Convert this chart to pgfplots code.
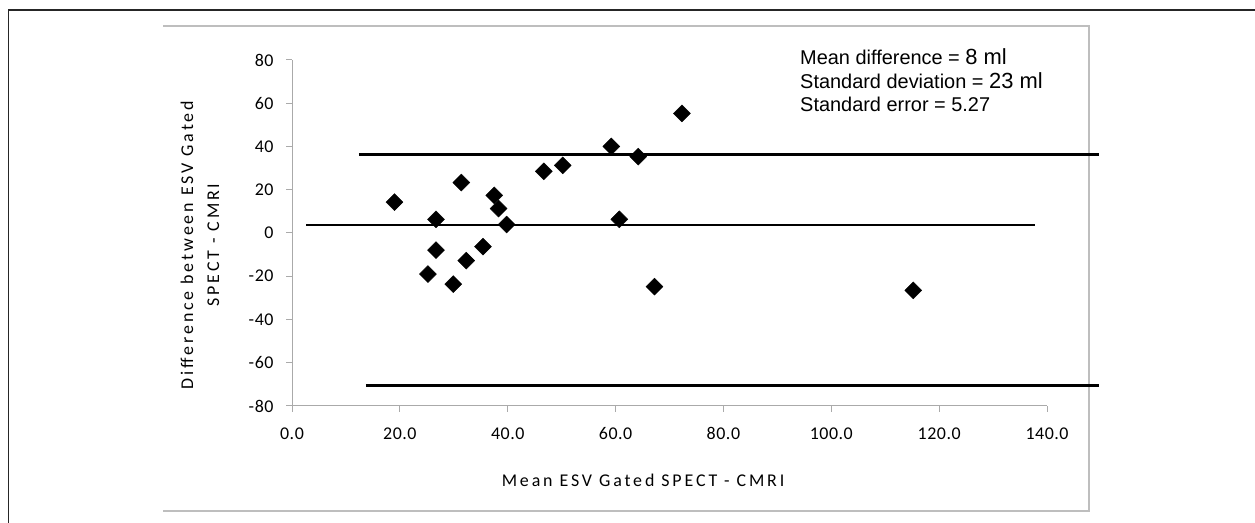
\documentclass[border=0pt]{standalone}
\usepackage{pgfplots}
\pgfplotsset{compat=1.18}
\usepackage{fontspec}
\setmainfont{Carlito}
\newfontfamily\tickfont[LetterSpace=3]{Carlito}
\newfontfamily\labelfont[LetterSpace=16]{Carlito}
\newfontfamily\arialfont{Liberation Sans}
\definecolor{axgray}{RGB}{170,170,170}
\definecolor{framegray}{RGB}{190,190,190}

\pgfplotstableread{
x y
19.0 14.3
26.7 6.3
31.4 23.3
37.5 17.4
38.3 11.3
39.8 3.9
46.7 28.5
50.2 31.3
59.2 40.0
64.2 35.3
60.7 6.3
26.7 -7.9
35.4 -6.3
32.3 -12.8
25.2 -19.0
29.9 -23.6
67.2 -24.8
72.3 55.3
115.2 -26.5
}\pts

\begin{document}
\begin{tikzpicture}[x=1bp,y=1bp]
\useasboundingbox (0,0) rectangle (1255,523);
\draw[black!85, line width=1.2bp] (8.5,0) -- (8.5,513) -- (1255,513);
\draw[framegray, line width=1.2bp] (163,497) -- (1089,497) -- (1089,12) -- (163,12);
\begin{axis}[
  at={(292bp,117bp)}, anchor=south west,
  scale only axis, width=755bp, height=346bp,
  xmin=0, xmax=140, ymin=-80, ymax=80,
  xtick={0,20,...,140}, ytick={-80,-60,...,80},
  axis x line*=bottom, axis y line*=left,
  axis line style={-, axgray, line width=1bp},
  tick style={axgray, line width=1bp},
  tick align=outside, major tick length=6bp,
  clip=false,
  ticklabel style={font=\tickfont\fontsize{18}{20}\selectfont, text=black},
  xticklabel style={yshift=-12bp},
  yticklabel style={xshift=-9bp},
  xticklabel={\pgfmathprintnumber[fixed,fixed zerofill,precision=1,assume math mode=true]{\tick}},
  yticklabel={\pgfmathprintnumber[assume math mode=true]{\tick}},
  xlabel={Mean ESV Gated SPECT - CMRI},
  ylabel={Difference between ESV Gated\\SPECT - CMRI},
  label style={font=\labelfont\fontsize{18}{26}\selectfont, align=center},
  xlabel style={at={(axis description cs:0.465,-0.214)}, anchor=center},
  ylabel style={at={(axis description cs:-0.122,0.465)}, anchor=center},
]
\addplot[black, line width=3bp] coordinates {(12.4,36.4) (149.6,36.4)};
\addplot[black, line width=3bp] coordinates {(13.7,-70.7) (149.6,-70.7)};
\addplot[black, line width=1.8bp] coordinates {(2.6,3.6) (137.8,3.6)};
\addplot[only marks, mark=square*, mark size=6bp, mark options={rotate=45, fill=black, draw=black}] table[x=x,y=y]{\pts};
\node[anchor=base west, font=\arialfont\fontsize{20}{24}\selectfont, inner sep=0pt] at (axis cs:94.2,78.0) {Mean difference = {\fontsize{22}{24}\selectfont 8 ml}};
\node[anchor=base west, font=\arialfont\fontsize{20}{24}\selectfont, inner sep=0pt] at (axis cs:94.2,67.0) {Standard deviation = {\fontsize{22}{24}\selectfont 23 ml}};
\node[anchor=base west, font=\arialfont\fontsize{20}{24}\selectfont, inner sep=0pt] at (axis cs:94.2,56.0) {Standard error = 5.27};
\end{axis}
\end{tikzpicture}
\end{document}
